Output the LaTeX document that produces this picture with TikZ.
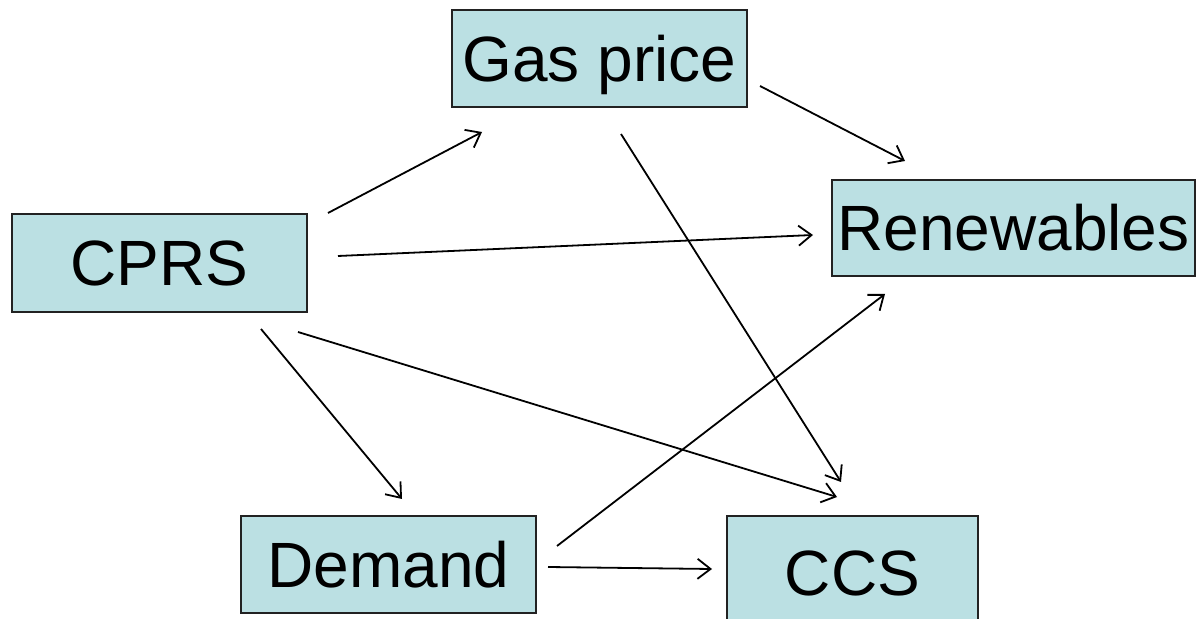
\documentclass[tikz,border=0pt]{standalone}
\usepackage{fontspec}
\setmainfont{Liberation Sans}
\usetikzlibrary{arrows.meta,calc}
\definecolor{boxfill}{HTML}{BBE0E3}
\definecolor{boxline}{HTML}{222222}
\tikzset{
  factor/.style={draw=boxline, line width=1pt, fill=boxfill, inner sep=0pt,
    text height=23pt, text depth=0pt,
    font=\fontsize{32}{36}\selectfont, text=black},
  link/.style={line width=0.9pt, -{Straight Barb[length=6.5pt,width=10pt,line width=0.9pt]}}
}
\begin{document}
\begin{tikzpicture}[x=0.5pt,y=-0.5pt]
\useasboundingbox (0,0) rectangle (1198,619);
% factors
\node[factor, minimum width=147.5pt, minimum height=48.5pt] (gas) at (599.5,58.5) {Gas price};
\node[factor, minimum width=147.5pt, minimum height=49pt] (cprs) at (159.5,263) {CPRS};
\node[factor, minimum width=181.5pt, minimum height=48pt] (ren) at (1013.5,228) {Renewables};
\node[factor, minimum width=147.5pt, minimum height=48.5pt] (dem) at (388.5,564.5) {Demand};
\node[factor, minimum width=125.5pt, minimum height=56pt] (ccs) at (852.5,572) {CCS};
% influences
\draw[link] ($(cprs.north east)+(20,0)$) -- ($(gas.south west)+(31,24)$);
\draw[link] ($(gas.east)+(12,27.5)$) -- ($(ren.north west)+(74,-18)$);
\draw[link] ($(cprs.east)+(30,-7)$) -- ($(ren.west)+(-18,7)$);
\draw[link] ($(gas.south)+(21.5,26)$) -- ($(ccs.north west)+(115,-33)$);
\draw[link] ($(cprs.south east)+(-10,19)$) -- ($(ccs.north west)+(111,-18)$);
\draw[link] ($(cprs.south)+(101.5,16)$) -- ($(dem.north)+(13.5,-16)$);
\draw[link] ($(dem.east)+(20,-18.5)$) -- ($(ren.south west)+(54,17)$);
\draw[link] ($(dem.east)+(11,2.5)$) -- ($(ccs.north west)+(-14,54)$);
\end{tikzpicture}
\end{document}
